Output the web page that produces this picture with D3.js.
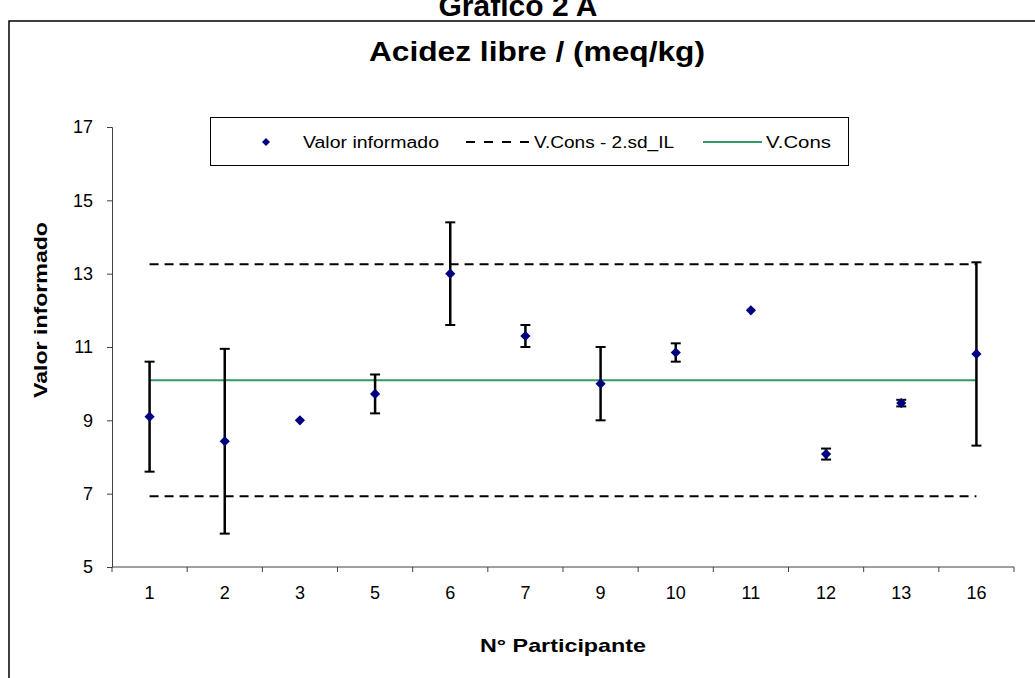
<!DOCTYPE html>
<html>
<head>
<meta charset="utf-8">
<script src="https://cdn.jsdelivr.net/npm/d3@7"></script>
<style>
  html, body { margin: 0; padding: 0; background: #fff; }
  svg { display: block; }
  text { font-family: "Liberation Sans", Arial, sans-serif; }
</style>
</head>
<body>
<svg id="chart" width="1035" height="678"></svg>
<script>
// ---- data ----
const participants = ["1", "2", "3", "5", "6", "7", "9", "10", "11", "12", "13", "16"];
const values = [9.1, 8.43, 9.0, 9.72, 13.0, 11.3, 10.0, 10.85, 12.0, 8.08, 9.47, 10.81];
const errors = [1.5, 2.52, 0, 0.53, 1.4, 0.3, 1.0, 0.25, 0, 0.15, 0.09, 2.5];
const vCons = 10.09;
const limitUpper = 13.26;
const limitLower = 6.93;
const yTicks = [5, 7, 9, 11, 13, 15, 17];
const legendLabels = ["Valor informado", "V.Cons - 2.sd_IL", "V.Cons"];

// ---- layout ----
const svg = d3.select("#chart");
const W = 1035, H = 678;
const plot = { left: 112, right: 1014, top: 127, bottom: 567 };

const x = d3.scaleBand().domain(participants).range([plot.left, plot.right]).padding(0);
const y = d3.scaleLinear().domain([5, 17]).range([plot.bottom, plot.top]);

// frame
svg.append("rect")
  .attr("x", 9).attr("y", 21).attr("width", W + 20).attr("height", H + 20)
  .attr("fill", "none").attr("stroke", "#000").attr("stroke-width", 1.5);

// super title (cut off at the top, as in the original)
svg.append("text")
  .attr("x", 518).attr("y", 16)
  .attr("text-anchor", "middle")
  .attr("font-size", 30).attr("font-weight", "bold")
  .text("Gráfico 2 A");

// chart title
svg.append("text")
  .attr("x", 537).attr("y", 61)
  .attr("text-anchor", "middle")
  .attr("font-size", 27).attr("font-weight", "bold")
  .attr("textLength", 336).attr("lengthAdjust", "spacingAndGlyphs")
  .text("Acidez libre / (meq/kg)");

// y axis
const yAxis = d3.axisLeft(y).tickValues(yTicks).tickSize(5).tickPadding(14).tickFormat(d3.format("d"));
const gy = svg.append("g").attr("transform", `translate(${plot.left},0)`).call(yAxis);
gy.select(".domain").attr("stroke", "#404040");
gy.selectAll(".tick line").attr("stroke", "#404040");
gy.selectAll(".tick text").attr("font-size", 18).attr("fill", "#000")
  .attr("font-family", "Liberation Sans, Arial, sans-serif");

// x axis: ticks at band boundaries, labels at centres
const gx = svg.append("g").attr("transform", `translate(0,${plot.bottom})`);
gx.append("line").attr("x1", plot.left).attr("x2", plot.right)
  .attr("stroke", "#404040");
const bounds = participants.map(p => x(p)).concat([x(participants[participants.length - 1]) + x.bandwidth()]);
gx.selectAll("line.tk").data(bounds).enter().append("line").attr("class", "tk")
  .attr("x1", d => d).attr("x2", d => d).attr("y1", 0).attr("y2", 5)
  .attr("stroke", "#404040");
gx.selectAll("text.lbl").data(participants).enter().append("text").attr("class", "lbl")
  .attr("x", d => x(d) + x.bandwidth() / 2).attr("y", 32)
  .attr("text-anchor", "middle").attr("font-size", 18)
  .text(d => d);

// axis titles
svg.append("text")
  .attr("x", 563).attr("y", 652)
  .attr("text-anchor", "middle").attr("font-size", 19).attr("font-weight", "bold")
  .attr("textLength", 166).attr("lengthAdjust", "spacingAndGlyphs")
  .text("N° Participante");
svg.append("text")
  .attr("transform", `translate(47,310) rotate(-90)`)
  .attr("text-anchor", "middle").attr("font-size", 19).attr("font-weight", "bold")
  .attr("textLength", 176).attr("lengthAdjust", "spacingAndGlyphs")
  .text("Valor informado");

// reference lines
const cx = d => x(d) + x.bandwidth() / 2;
const xFirst = cx(participants[0]);
const xLast = cx(participants[participants.length - 1]);
[limitUpper, limitLower].forEach(v => {
  svg.append("line")
    .attr("x1", xFirst).attr("x2", xLast).attr("y1", y(v)).attr("y2", y(v))
    .attr("stroke", "#000").attr("stroke-width", 2).attr("stroke-dasharray", "9,6");
});
svg.append("line")
  .attr("x1", xFirst).attr("x2", xLast).attr("y1", y(vCons)).attr("y2", y(vCons))
  .attr("stroke", "#339966").attr("stroke-width", 2);

// error bars
const pts = participants.map((p, i) => ({ p, v: values[i], e: errors[i] }));
const eb = svg.append("g").selectAll("g").data(pts.filter(d => d.e > 0)).enter().append("g");
eb.append("line").attr("x1", d => cx(d.p)).attr("x2", d => cx(d.p))
  .attr("y1", d => y(d.v - d.e)).attr("y2", d => y(d.v + d.e))
  .attr("stroke", "#000").attr("stroke-width", 2.5);
eb.append("line").attr("x1", d => cx(d.p) - 5).attr("x2", d => cx(d.p) + 5)
  .attr("y1", d => y(d.v + d.e)).attr("y2", d => y(d.v + d.e))
  .attr("stroke", "#000").attr("stroke-width", 2);
eb.append("line").attr("x1", d => cx(d.p) - 5).attr("x2", d => cx(d.p) + 5)
  .attr("y1", d => y(d.v - d.e)).attr("y2", d => y(d.v - d.e))
  .attr("stroke", "#000").attr("stroke-width", 2);

// markers
const diamond = d3.symbol(d3.symbolSquare, 52);
svg.append("g").selectAll("path").data(pts).enter().append("path")
  .attr("d", diamond)
  .attr("transform", d => `translate(${cx(d.p)},${y(d.v)}) rotate(45)`)
  .attr("fill", "#000080");

// legend
const lg = svg.append("g");
lg.append("rect").attr("x", 210.5).attr("y", 117.5).attr("width", 638).attr("height", 48)
  .attr("fill", "#fff").attr("stroke", "#000").attr("stroke-width", 1);
const ly = 142;
lg.append("path").attr("d", d3.symbol(d3.symbolSquare, 32))
  .attr("transform", `translate(266,${ly}) rotate(45)`).attr("fill", "#000080");
lg.append("text").attr("x", 303).attr("y", ly + 6).attr("font-size", 16)
  .attr("textLength", 136).attr("lengthAdjust", "spacingAndGlyphs").text(legendLabels[0]);
lg.append("line").attr("x1", 466).attr("x2", 531).attr("y1", ly).attr("y2", ly)
  .attr("stroke", "#000").attr("stroke-width", 2).attr("stroke-dasharray", "9,9");
lg.append("text").attr("x", 534).attr("y", ly + 6).attr("font-size", 16)
  .attr("textLength", 140).attr("lengthAdjust", "spacingAndGlyphs").text(legendLabels[1]);
lg.append("line").attr("x1", 703).attr("x2", 762).attr("y1", ly).attr("y2", ly)
  .attr("stroke", "#339966").attr("stroke-width", 2);
lg.append("text").attr("x", 766).attr("y", ly + 6).attr("font-size", 16)
  .attr("textLength", 65).attr("lengthAdjust", "spacingAndGlyphs").text(legendLabels[2]);
</script>
</body>
</html>
